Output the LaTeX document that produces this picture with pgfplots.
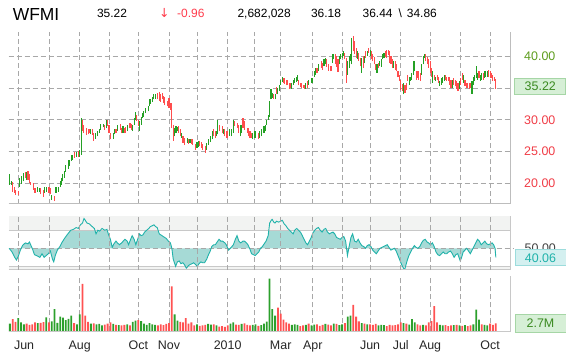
\documentclass[border=0pt]{standalone}
\usepackage{pgfplots}
\pgfplotsset{compat=1.18}
\usepackage{pgfplotstable}
\usepgfplotslibrary{fillbetween}
\usepackage{fontspec}
\setmainfont{Liberation Sans}
\newfontfamily\arrowfont{DejaVu Sans}
\definecolor{upG}{HTML}{24A024}
\definecolor{dnR}{HTML}{FF4D4D}
\definecolor{volG}{HTML}{2CA02C}
\definecolor{volR}{HTML}{FF5252}
\definecolor{gridC}{HTML}{A8A8A8}
\definecolor{axC}{HTML}{BDBDBD}
\definecolor{lineC}{HTML}{C8C8C8}
\definecolor{rsiC}{HTML}{20B2AA}
\definecolor{rsiF}{HTML}{A6DAD6}
\definecolor{bandC}{HTML}{F2F3F2}
\definecolor{lblG}{HTML}{5C9C1C}
\definecolor{lblR}{HTML}{F03C46}
\definecolor{boxGf}{HTML}{D6EFD6}
\definecolor{boxGd}{HTML}{A6D6A6}
\definecolor{boxGt}{HTML}{3A8A20}
\definecolor{boxTf}{HTML}{D4F0F0}
\definecolor{boxTd}{HTML}{9CDCDC}
\definecolor{hdrR}{HTML}{FF3B4B}

\pgfplotstableread{
d lo hi
-6 19.8 21.5
-5 19.8 20.4
1 19.5 20.8
2 19.9 21.1
4 20.3 21.6
6 20.6 21.8
14 18.7 19.5
15 18.7 19.3
19 18.5 19.4
20 18.7 19.5
24 17.4 18.2
27 18.5 19.5
29 18.7 19.5
30 19.4 20.3
31 19.8 20.8
32 20.3 21.4
33 20.9 21.9
34 21.8 22.9
36 22.3 23.7
37 22.7 23.7
38 23.5 24.5
39 23.7 24.5
42 24.2 25.0
44 24.2 25.3
45 24.5 30.3
52 27.7 28.6
55 27.0 27.9
57 27.4 28.2
58 27.9 28.6
59 28.4 29.3
61 28.8 29.3
63 28.7 30.0
68 27.0 27.9
69 27.7 28.5
71 28.2 29.1
75 27.9 29.0
78 28.2 29.2
82 28.2 29.2
83 29.2 30.3
84 30.0 31.2
87 28.2 29.8
88 29.2 30.5
89 30.3 31.1
90 30.5 31.3
91 31.1 31.9
93 31.3 32.1
94 32.1 33.2
95 32.5 33.2
96 32.8 33.5
97 33.2 34.0
98 33.3 34.1
112 27.4 28.7
113 27.9 29.0
114 28.2 28.8
117 27.2 27.9
121 26.4 27.1
123 26.4 27.0
128 25.6 26.5
129 25.7 26.6
135 25.3 26.4
136 26.1 26.9
138 26.5 27.4
139 26.9 28.2
142 27.4 28.2
143 27.7 29.9
147 27.7 28.5
151 27.5 28.5
153 27.4 28.5
154 27.9 30.0
159 27.4 29.2
160 27.9 29.2
168 26.9 27.9
169 27.1 28.2
170 27.1 28.2
173 27.1 28.2
174 27.4 28.5
176 27.9 29.0
177 28.2 29.2
178 29.2 30.0
179 30.0 30.7
180 30.5 32.9
181 33.2 34.8
182 33.4 34.2
184 33.2 34.0
186 34.0 35.0
187 34.5 35.5
188 35.5 36.3
189 36.0 36.7
196 34.9 35.8
197 35.5 36.2
198 35.8 36.5
199 36.0 36.7
200 36.1 37.0
206 34.9 35.8
208 35.5 36.3
210 35.8 36.5
211 35.8 36.6
212 36.7 37.6
213 37.1 38.2
215 37.7 38.7
219 38.4 39.5
220 38.7 39.7
225 38.9 40.4
226 39.5 40.4
230 38.7 40.0
231 39.5 40.3
232 39.7 40.5
233 40.0 40.8
236 37.1 39.2
237 38.2 40.0
238 39.2 40.3
239 38.7 42.9
243 39.5 40.8
246 37.4 39.7
248 38.9 40.0
250 40.0 40.8
252 40.0 41.0
257 37.4 38.7
259 38.4 39.3
260 38.3 39.5
261 39.5 40.3
262 39.7 40.5
269 38.2 39.2
276 34.0 35.8
280 35.5 36.8
281 36.1 36.8
282 36.3 37.4
283 37.1 39.2
284 37.6 39.2
289 37.1 38.7
290 38.7 40.0
291 39.7 40.4
297 35.8 37.6
299 36.1 36.8
302 35.3 36.1
303 35.5 36.6
304 35.8 36.8
305 36.1 37.1
311 35.0 36.3
316 34.8 36.1
319 35.8 37.1
325 34.1 36.1
326 35.5 36.7
327 36.1 37.1
328 36.6 38.4
329 36.3 37.4
331 36.1 37.1
332 36.3 37.4
334 36.6 37.6
335 36.8 37.6
336 36.7 37.6
}\upT

\pgfplotstableread{
d lo hi
-4 18.7 20.2
-3 18.5 19.5
-2 18.2 19.0
0 18.1 18.8
5 20.8 21.8
7 20.6 21.9
8 20.1 21.4
9 19.8 20.2
11 19.0 20.0
12 18.5 19.3
16 18.3 19.2
18 17.9 19.0
22 18.5 19.5
23 18.3 19.2
26 17.2 18.0
40 24.0 25.0
43 24.2 25.1
46 28.2 30.0
47 27.9 29.1
49 27.6 28.7
50 27.7 28.5
51 27.9 28.6
53 27.6 28.6
54 26.7 27.9
62 28.4 29.2
64 29.0 30.0
65 27.9 29.1
66 26.9 27.9
70 27.9 28.6
73 28.4 29.3
74 27.9 28.7
76 27.9 28.7
77 27.9 28.8
80 28.7 29.5
81 28.4 29.3
85 29.8 30.8
86 29.0 30.0
100 33.2 34.2
101 33.0 34.4
102 32.8 34.0
103 33.2 34.2
104 32.7 33.7
105 32.3 33.5
107 32.1 32.9
108 31.9 33.4
109 31.6 32.7
110 28.7 32.7
111 26.7 29.2
115 27.9 29.0
116 27.4 28.5
118 26.4 27.4
119 26.0 27.1
122 26.2 27.0
124 26.2 26.9
125 26.1 26.9
127 25.3 26.2
130 25.8 26.6
131 25.6 26.5
132 25.3 26.2
134 24.8 25.8
140 27.4 28.5
141 27.1 28.2
144 28.2 29.2
146 27.9 29.0
148 27.4 28.5
149 27.2 28.2
150 27.1 28.2
155 29.0 29.8
157 28.7 29.5
158 27.9 29.2
161 28.7 30.3
162 28.4 29.8
164 27.9 28.7
165 27.4 28.7
166 27.1 28.2
167 27.1 27.9
172 26.9 27.9
183 33.3 34.1
185 34.1 35.1
190 35.8 36.6
191 35.6 36.5
192 35.4 36.3
193 35.5 36.3
194 34.9 35.8
195 35.0 35.8
201 35.4 36.3
202 35.1 35.8
203 35.0 35.8
204 35.0 35.5
205 34.9 35.5
207 35.0 36.1
214 37.4 38.2
217 38.2 39.2
218 37.9 38.9
221 38.3 39.5
222 37.7 38.7
224 37.6 38.4
227 38.7 40.3
228 38.3 40.0
229 37.5 39.5
234 39.5 40.5
235 35.8 39.7
240 40.8 43.1
241 40.3 42.4
242 39.7 41.3
244 39.2 40.5
245 38.4 39.7
247 38.2 40.0
249 39.7 40.8
251 40.5 41.3
253 39.5 40.8
254 39.2 40.3
255 38.7 39.8
256 37.9 38.7
258 38.2 38.9
263 39.8 40.8
264 39.7 40.9
265 40.2 41.0
266 38.9 40.8
267 38.8 40.0
268 38.2 39.5
270 37.9 39.2
271 37.6 38.7
272 36.7 37.6
273 36.1 37.1
274 34.7 36.3
275 34.5 35.6
277 34.2 35.5
278 34.7 35.8
279 36.1 37.1
285 36.3 37.6
286 36.6 37.6
287 36.3 37.6
288 36.1 37.4
292 39.2 40.3
293 38.7 39.8
294 38.2 39.5
295 37.4 39.2
296 36.8 38.2
298 36.3 37.1
300 36.3 37.1
301 35.8 36.8
306 36.3 37.1
307 36.1 36.8
308 36.1 36.8
309 35.5 36.7
310 35.0 36.3
312 35.5 36.6
313 35.3 36.3
314 34.8 36.1
315 34.5 35.8
317 35.5 36.6
318 36.3 37.4
320 35.3 36.3
321 35.0 35.8
322 35.0 35.8
323 34.9 35.8
324 35.0 35.8
330 36.6 37.6
333 36.3 37.4
337 36.8 37.9
338 36.6 37.6
339 36.6 37.4
340 36.1 37.1
341 36.1 36.8
342 34.86 36.44
}\dnT

\pgfplotstableread{
d v
-6.5 50
-4.5 46
-2.5 40
-1.3 37
0 41
1.5 48
3 53
5 56
7 55
8 57
10 50
11.6 43
13 42
15.5 40
17 44
18.5 40
20 42
21.5 44
23 47
24.5 38
25.4 35
26.5 42
28 48
29.8 52
31.5 57
33.6 62
35.5 66
37.6 70
39.5 71
41.5 73
43 72
44.5 76
46 78
47.1 83
48 81
49.2 78
51 77
53 74
54.5 72
55.7 66
57 70
58.3 69
60 72
62 70
63.5 71
64.7 65
66 60
67.3 51
68.5 55
70 58
71 56
72.5 54
74 56
76.4 60
78 58
79 54
80.5 60
81.6 64
83 60
84.2 54
85.5 60
86.8 66
88 64
89.4 65
90.5 68
92 70
93.5 72
94.6 74
96 75
97.2 76
98.4 74
99.5 73
101 66
103 64
104.9 62
106 61
107.5 58
109 56
110 50
111 38
112.7 30
114 35
115.3 36
116.5 33
117.9 34
119 32
120.4 28
122 31
123 32
124.5 33
125.6 34
127 32
128.2 30
129.5 33
130.8 35
132 34
133.4 34
135 38
136 42
137.5 47
138.6 52
140 54
141.2 54
142.5 57
143.8 60
145 58
146.4 58
148 56
149 54
150.7 48
152.5 51
154.1 54
155.5 60
156.7 64
158 58
159.3 56
161 58
162 58
163.5 56
164.5 54
166 49
167.1 44
168.5 43
169.7 42
171 44
172.3 46
173.5 50
174.9 52
176.2 55
177.5 58
179 64
180.1 78
181.2 81
181.9 82
183 79
183.9 78
185 80
186.5 79
188 80
189.1 81
190.5 77
191.7 75
193 72
194.3 70
195.5 68
196.9 66
198 70
199.5 72
200.8 70
202.1 68
203.5 64
204.7 60
206 56
207.2 54
208.5 58
209.8 62
211 67
212.4 70
213.7 72
215 73
216.3 70
217.6 68
219 71
220.2 72
221.5 68
222.8 66
224 67
225.4 68
226.7 66
228 62
229.3 61
230.6 60
232 62
233.2 63
234.5 58
235.8 42
237 52
238.3 62
239.5 66
240.9 58
242.2 57
243.5 60
244.8 56
246.1 53
247.4 52
248.7 50
250 53
251.3 54
252.6 52
253.9 48
255.2 46
256.5 44
257.8 47
259.1 50
260.4 51
261.7 52
263 53
264.3 54
265.6 51
266.9 48
268.2 49
269.4 50
270.7 47
272 42
273.3 37
274.6 32
275.6 29
276.7 26
277.6 31
278.5 36
279.8 42
281.1 46
282.4 50
283.7 53
285 51
286.3 50
287.6 52
288.9 56
290.2 59
291.5 60
292.8 57
294 56
295.3 54
296.6 56
297.9 52
299.2 46
300.5 43
301.8 42
303.1 44
304.4 46
305.7 44
307 44
308.3 46
309.6 47
310.9 44
312.2 40
313.5 43
314.8 44
315.7 40
316.6 36
317.6 40
318.7 46
320 48
321.2 50
322.5 47
323.8 44
325.1 48
326.4 52
327.7 56
329 60
330.3 58
331.6 54
332.9 56
334.2 58
335.5 55
336.8 54
338.1 55
339.4 56
340.5 54
341.5 50
342.1 40.06
}\rsiT

\pgfplotstableread{
d g r
-6 2.6 0
-4 0 4.1
-2 0 3.2
0 4.5 0
2 3.0 0
4 2.4 0
6 0 2.6
8 0 2.2
10 0 2.4
12 0 3.0
14 2.8 0
16 0 2.9
18 0 3.1
20 4.7 0
22 0 3.0
24 3.4 0
26 7.5 0
28 2.9 0
30 5.0 0
32 4.6 0
34 3.8 0
36 4.2 0
38 5.3 0
40 0 2.8
42 2.4 0
44 5.7 0
46 0 16.0
48 0 5.3
50 0 3.2
52 2.6 0
54 0 2.7
56 2.4 0
58 2.5 0
60 2.0 0
62 0 2.3
64 0 2.6
66 0 3.0
68 2.5 0
70 0 2.2
72 2.1 0
74 0 2.0
76 0 2.2
78 2.4 0
80 0 2.0
82 3.2 0
84 3.6 0
86 0 3.8
88 3.5 0
90 2.6 0
92 2.2 0
94 2.8 0
96 2.4 0
98 2.2 0
100 0 2.0
102 0 2.4
104 0 2.1
106 0 2.5
108 0 2.8
110 0 15.2
112 5.7 0
114 3.6 0
116 0 3.2
118 0 3.0
120 0 4.5
122 0 2.6
124 0 3.0
126 0 2.0
128 2.4 0
130 0 1.9
132 0 2.0
134 0 2.2
136 2.5 0
138 2.3 0
140 0 2.4
142 2.0 0
144 0 1.6
146 0 1.8
148 0 1.5
150 0 2.0
152 2.6 0
154 3.0 0
156 0 2.3
158 0 2.2
160 2.5 0
162 0 2.7
164 0 2.2
166 0 2.0
168 2.2 0
170 2.4 0
172 0 1.9
174 2.1 0
176 2.6 0
178 3.3 0
180 17.8 0
182 7.5 0
184 5.3 0
186 0 8.0
188 0 6.0
190 0 4.0
192 0 3.0
194 0 2.6
196 2.2 0
198 2.4 0
200 2.2 0
202 0 1.8
204 0 2.0
206 2.2 0
208 0 2.6
210 2.0 0
212 2.3 0
214 0 2.4
216 0 1.9
218 0 2.2
220 2.5 0
222 0 2.3
224 0 2.0
226 2.6 0
228 0 2.5
230 2.1 0
232 2.4 0
234 0 2.8
236 5.0 0
238 5.3 0
240 0 8.9
242 0 5.0
244 0 3.4
246 2.8 0
248 0 2.6
250 2.4 0
252 0 2.4
254 0 2.2
256 0 2.5
258 2.0 0
260 2.2 0
262 2.1 0
264 0 1.8
266 0 2.2
268 0 2.0
270 0 2.1
272 0 2.4
274 0 3.0
276 2.8 0
278 0 2.6
280 2.3 0
282 4.1 0
284 3.0 0
286 0 2.4
288 0 2.0
290 2.2 0
292 0 2.0
294 0 3.0
296 0 3.5
298 0 8.5
300 0 3.0
302 2.2 0
304 2.0 0
306 0 2.1
308 0 1.8
310 0 2.0
312 2.1 0
314 0 2.2
316 2.0 0
318 0 1.9
320 2.1 0
322 0 1.8
324 0 2.0
326 2.4 0
328 7.3 0
330 4.0 0
332 0 2.4
334 2.2 0
336 2.0 0
338 0 2.6
340 0 2.2
342 0 2.68
}\volT

\pgfplotsset{
  panel/.style={
    anchor=south west, scale only axis, width=502bp,
    xmin=-7, xmax=352.6,
    axis line style={draw=none},
    major tick length=0pt, tick style={draw=none},
    clip mode=individual,
    major grid style={draw=gridC, dash pattern=on 5bp off 3bp, line width=0.9bp},
    ticklabel style={font=\fontsize{12.5}{14}\selectfont},
  },
  gridticks/.style={
    xtick={0,22,44,65,86,108,128,150,169,188,211,232,252,274,295,317,338},
    xticklabels={,,,,,,,,,,,,,,,,},
  },
}

\begin{document}
\begin{tikzpicture}

% header
\node[anchor=base west, inner sep=0pt, font=\fontsize{17.5}{20}\selectfont] at (12.6bp,332.4bp) {WFMI};
\begin{scope}[every node/.style={anchor=base west, inner sep=0pt, font=\fontsize{12}{14}\selectfont}]
\node at (96.9bp,335.2bp) {35.22};
\node[text=hdrR, font=\arrowfont\fontsize{12.5}{14}\selectfont] at (158.8bp,335.4bp) {↓};
\node[text=hdrR] at (177bp,335.2bp) {-0.96};
\node at (237.4bp,335.2bp) {2,682,028};
\node at (310.8bp,335.2bp) {36.18};
\node at (362.5bp,335.2bp) {36.44\hspace{6bp}\textbackslash\hspace{5bp}34.86};
\end{scope}

% main price panel
\begin{axis}[panel, gridticks, at={(8.5bp,149bp)}, height=172bp,
  ymin=16.75, ymax=43.8,
  ytick={20,25,30,35,40},
  yticklabels={\textcolor{lblR}{20.00},\textcolor{lblR}{25.00},\textcolor{lblR}{30.00},,\textcolor{lblG}{40.00}},
  yticklabel pos=right,
  yticklabel style={anchor=west, inner sep=0pt, xshift=13.5bp},
  grid=major,
]
\addplot[draw=none, mark=none, forget plot,
  error bars/.cd, y dir=plus, y explicit, error mark=none,
  error bar style={draw=upG, line width=1.1bp, solid}]
  table[x=d, y=lo, y error plus expr={\thisrow{hi}-\thisrow{lo}}] {\upT};
\addplot[draw=none, mark=none, forget plot,
  error bars/.cd, y dir=plus, y explicit, error mark=none,
  error bar style={draw=dnR, line width=1.1bp, solid}]
  table[x=d, y=lo, y error plus expr={\thisrow{hi}-\thisrow{lo}}] {\dnT};
\draw[axC, line width=1bp] (rel axis cs:0,0) -- (rel axis cs:1,0) -- (rel axis cs:1,1);
\end{axis}

% RSI panel
\begin{axis}[panel, gridticks, at={(8.5bp,83bp)}, height=54.2bp,
  ymin=26, ymax=86, axis on top,
  xmajorgrids,
  ytick={50}, yticklabels={\textcolor{black!75}{50.00}},
  yticklabel pos=right,
  yticklabel style={anchor=west, inner sep=0pt, xshift=14bp},
]
\fill[bandC] (axis cs:-7,70) rectangle (axis cs:352.6,86);
\fill[bandC] (axis cs:-7,26) rectangle (axis cs:352.6,30);
\addplot[name path=rsi, draw=none, mark=none, forget plot] table[x=d, y=v] {\rsiT};
\addplot[name path=base, draw=none, mark=none, forget plot] coordinates {(-6.5,50) (342.1,50)};
\addplot[fill=rsiF, draw=none, forget plot] fill between[of=rsi and base];
\draw[lineC, line width=1bp] (axis cs:-7,70) -- (axis cs:352.6,70);
\draw[lineC, line width=1bp] (axis cs:-7,30) -- (axis cs:352.6,30);
\draw[gridC, line width=0.9bp, dash pattern=on 5bp off 3bp] (axis cs:-7,50) -- (axis cs:355,50);
\addplot[rsiC, line width=0.9bp, mark=none, forget plot] table[x=d, y=v] {\rsiT};
\draw[lineC, line width=1bp] (rel axis cs:0,0) -- (rel axis cs:1,0) -- (rel axis cs:1,1);
\end{axis}

% volume panel
\begin{axis}[panel, at={(8.5bp,21.6bp)}, height=54.9bp,
  ymin=0, ymax=18.5,
  xtick={4.2,44,86,108,150,188,211,252,274,295,338},
  xticklabels={Jun,Aug,Oct,Nov,2010,Mar,Apr,Jun,Jul,Aug,Oct},
  xticklabel style={anchor=base, yshift=-18bp, text=black!85},
  extra x ticks={0,22,44,65,86,108,128,150,169,188,211,232,252,274,295,317,338},
  extra x tick labels={},
  extra x tick style={grid=major},
  ytick=\empty,
]
\addplot[ybar, bar width=1.8bp, bar shift=0pt, fill=volG, draw=none, forget plot] table[x=d, y=g] {\volT};
\addplot[ybar, bar width=1.8bp, bar shift=0pt, fill=volR, draw=none, forget plot] table[x=d, y=r] {\volT};
\draw[lineC, line width=1bp] (rel axis cs:0,0) -- (rel axis cs:1,0) -- (rel axis cs:1,1);
\end{axis}

% value boxes
\node[draw=boxGd, fill=boxGf, line width=1bp, minimum width=51bp, minimum height=16.5bp, inner sep=0pt,
  text=boxGt, font=\fontsize{12.5}{14}\selectfont] at (540.3bp,266.4bp) {35.22};
\node[draw=boxTd, fill=boxTf, line width=1bp, minimum width=51bp, minimum height=16.2bp, inner sep=0pt,
  text=rsiC, font=\fontsize{12.5}{14}\selectfont] at (540.5bp,95.2bp) {40.06};
\node[draw=boxGd, fill=boxGf, line width=1bp, minimum width=51bp, minimum height=18bp, inner sep=0pt,
  text=boxGt, font=\fontsize{12.5}{14}\selectfont] at (540.5bp,29.9bp) {2.7M};

\pgfresetboundingbox
\path[use as bounding box] (0,0) rectangle (566bp,353bp);
\end{tikzpicture}
\end{document}
